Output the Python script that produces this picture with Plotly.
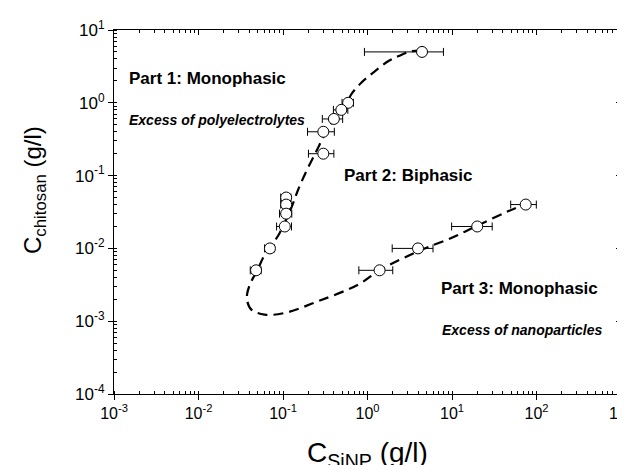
import plotly.graph_objects as go

# Measured points (upper branch + lower branch)
x_pts = [4.42, 0.59, 0.49, 0.40, 0.30, 0.30, 0.109, 0.109, 0.109, 0.105, 0.070, 0.048,
         1.39, 3.96, 19.9, 74.5]
y_pts = [5.0, 1.0, 0.8, 0.6, 0.4, 0.2, 0.05, 0.04, 0.03, 0.02, 0.01, 0.005,
         0.005, 0.01, 0.02, 0.04]
x_err = [3.5, 0.09, 0.095, 0.108, 0.105, 0.10, 0.015, 0.015, 0.018, 0.021, 0.0095, 0.007,
         0.6, 2.0, 10.0, 25.0]

# Dashed phase boundary
curve_x = [4.42, 3.27, 2.30, 1.75, 1.22, 0.838, 0.638, 0.588, 0.409, 0.311, 0.248, 0.189,
           0.151, 0.125, 0.0914, 0.0697, 0.058, 0.0497, 0.0422, 0.0378, 0.0378, 0.0422,
           0.0607, 0.105, 0.26, 0.772, 1.39, 3.96, 9.8, 19.9, 46.0, 79.4]
curve_y = [5.2, 5.09, 4.35, 3.72, 2.71, 1.87, 1.29, 1.05, 0.618, 0.365, 0.216, 0.115,
           0.064, 0.0359, 0.0163, 0.0101, 0.00738, 0.005, 0.00353, 0.00244, 0.00188, 0.00144,
           0.00123, 0.0013, 0.00188, 0.00317, 0.005, 0.00912, 0.0139, 0.0205, 0.0323, 0.042]

x_tick_vals = [1e-3, 1e-2, 1e-1, 1e0, 1e1, 1e2, 1e3]
x_tick_text = ["10<sup>-3</sup>", "10<sup>-2</sup>", "10<sup>-1</sup>", "10<sup>0</sup>",
               "10<sup>1</sup>", "10<sup>2</sup>", "10<sup>3</sup>"]
y_tick_vals = [1e-4, 1e-3, 1e-2, 1e-1, 1e0, 1e1]
y_tick_text = ["10<sup>-4</sup>", "10<sup>-3</sup>", "10<sup>-2</sup>", "10<sup>-1</sup>",
               "10<sup>0</sup>", "10<sup>1</sup>"]

FONT = "Liberation Sans, Arial, sans-serif"

fig = go.Figure()
fig.add_trace(go.Scatter(
    x=curve_x, y=curve_y, mode="lines",
    line=dict(color="black", width=2.2, dash="10px,6px", shape="spline", smoothing=1.0),
    hoverinfo="skip", showlegend=False))
fig.add_trace(go.Scatter(
    x=x_pts, y=y_pts, mode="markers",
    marker=dict(symbol="circle", size=11, color="white", line=dict(color="black", width=1)),
    error_x=dict(type="data", array=x_err, color="black", thickness=1, width=4),
    showlegend=False))
# invisible trace for mirrored axes
fig.add_trace(go.Scatter(x=[1], y=[1], xaxis="x2", yaxis="y2", mode="markers",
                         marker=dict(opacity=0), showlegend=False, hoverinfo="skip"))

axis_common = dict(type="log", showgrid=False, zeroline=False, showline=True,
                   linecolor="black", linewidth=1, automargin=False)

fig.update_layout(
    template="none",
    width=625, height=465,
    margin=dict(l=106, r=12, t=22, b=79, autoexpand=False),
    paper_bgcolor="white", plot_bgcolor="white",
    font=dict(family=FONT, color="black", size=16),
    xaxis=dict(**axis_common, range=[-3, 3], tickmode="array", tickvals=x_tick_vals,
               ticktext=x_tick_text, ticks="outside", ticklen=5, tickcolor="black",
               tickfont=dict(size=16, family=FONT), ticklabeloverflow="allow",
               minor=dict(ticks="inside", ticklen=3, tickcolor="black", dtick="D1")),
    yaxis=dict(**axis_common, range=[-4, 1], tickmode="array", tickvals=y_tick_vals,
               ticktext=y_tick_text, ticks="outside", ticklen=5, tickcolor="black",
               tickfont=dict(size=17, family=FONT), ticklabeloverflow="allow",
               minor=dict(ticks="inside", ticklen=3, tickcolor="black", dtick="D1")),
    xaxis2=dict(**axis_common, range=[-3, 3], overlaying="x", side="top", anchor="y",
                tickvals=x_tick_vals, showticklabels=False, ticks="inside", ticklen=5,
                tickcolor="black",
                minor=dict(ticks="inside", ticklen=3, tickcolor="black", dtick="D1")),
    yaxis2=dict(**axis_common, range=[-4, 1], overlaying="y", side="right", anchor="x",
                tickvals=y_tick_vals, showticklabels=False, ticks="inside", ticklen=5,
                tickcolor="black",
                minor=dict(ticks="inside", ticklen=3, tickcolor="black", dtick="D1")),
)

def ann(text, x, y, size, italic=False, **kw):
    t = "<b><i>%s</i></b>" % text if italic else "<b>%s</b>" % text
    fig.add_annotation(text=t, x=x, y=y, xref="paper", yref="paper", showarrow=False,
                       xanchor="left", yanchor="middle",
                       font=dict(size=size, family=FONT, color="black"), **kw)

ann("Part 1: Monophasic", 0.0256, 0.868, 17)
ann("Excess of polyelectrolytes", 0.0256, 0.753, 14, italic=True)
ann("Part 2: Biphasic", 0.450, 0.599, 17)
ann("Part 3: Monophasic", 0.641, 0.291, 17)
ann("Excess of nanoparticles", 0.643, 0.176, 14, italic=True)

fig.add_annotation(text="C<sub>chitosan</sub> (g/l)", x=-0.158, y=0.56, xref="paper",
                   yref="paper", showarrow=False, textangle=-90, xanchor="center",
                   yanchor="middle", font=dict(size=24, family=FONT, color="black"))
fig.add_annotation(text="C<sub>SiNP</sub> (g/l)", x=0.5, y=-0.112, xref="paper",
                   yref="paper", showarrow=False, xanchor="center", yanchor="top",
                   font=dict(size=28, family=FONT, color="black"))

fig.write_html("out.html")
